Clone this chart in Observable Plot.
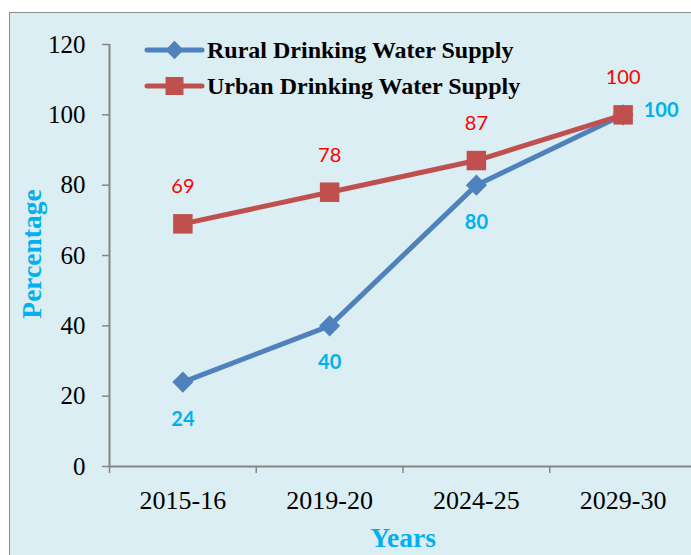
<!DOCTYPE html>
<html><head><meta charset="utf-8">
<script src="https://cdn.jsdelivr.net/npm/d3@7"></script>
<script src="https://cdn.jsdelivr.net/npm/@observablehq/plot@0.6"></script>
<style>
body{margin:0;width:691px;height:555px;overflow:hidden;background:#fff;position:relative;}
#bg{position:absolute;left:9px;top:12px;width:720px;height:600px;background:#DBEEF4;border:1.5px solid #8c8c8c;box-sizing:border-box;}
#chart{position:absolute;left:0;top:0;}
.title{position:absolute;color:#00B0F0;font-weight:bold;font-family:"Liberation Serif";font-size:27.5px;white-space:nowrap;line-height:1;}
#ytitle{left:32px;top:254px;transform:translate(-50%,-50%) rotate(-90deg);}
#xtitle{left:403px;top:538px;transform:translate(-50%,-50%);}
#legend{position:absolute;left:0;top:0;}
</style></head>
<body>
<div id="bg"></div>
<div id="chart"></div>
<div class="title" id="ytitle">Percentage</div>
<div class="title" id="xtitle">Years</div>
<svg id="legend" width="691" height="120"></svg>
<script>
const years = ["2015-16","2019-20","2024-25","2029-30"];
const rural = [24,40,80,100];
const urban = [69,78,87,100];
const yTicks = [0,20,40,60,80,100,120];
const seriesNames = ["Rural Drinking Water Supply","Urban Drinking Water Supply"];
const colors = ["#4F81BD","#C0504D"];

const ruralData = years.map((y,i)=>({i:i+0.5, v:rural[i], last:i===years.length-1}));
const urbanData = years.map((y,i)=>({i:i+0.5, v:urban[i]}));

const chart = Plot.plot({
  width:691, height:555,
  marginLeft:109, marginTop:44, marginBottom:89, marginRight:0,
  x:{domain:[0,years.length], range:[109,696]},
  y:{domain:[0,120]},
  style:{background:"transparent", fontFamily:"Liberation Serif", overflow:"visible"},
  marks:[
    Plot.axisY({ticks:yTicks, tickSize:7, tickPadding:17, fontSize:25, stroke:"#868686", strokeWidth:1.5, fill:"#000", label:null}),
    Plot.axisX({ticks:d3.range(years.length+1), tickFormat:()=>"", tickSize:7, stroke:"#868686", strokeWidth:1.5, label:null}),
    Plot.axisX({ticks:years.map((y,i)=>i+0.5), tickFormat:d=>years[Math.floor(d)], tickSize:0, tickPadding:24, fontSize:26, fill:"#000", label:null}),
    Plot.ruleX([0], {stroke:"#868686", strokeWidth:2}),
    Plot.ruleY([0], {stroke:"#868686", strokeWidth:2}),
    Plot.line(ruralData, {x:"i", y:"v", stroke:colors[0], strokeWidth:5}),
    Plot.dot(ruralData, {x:"i", y:"v", symbol:"diamond2", r:9.5, fill:colors[0]}),
    Plot.line(urbanData, {x:"i", y:"v", stroke:colors[1], strokeWidth:5}),
    Plot.dot(urbanData, {x:"i", y:"v", symbol:"square", r:11, fill:colors[1]}),
    Plot.text(urbanData, {x:"i", y:"v", text:d=>String(d.v), dy:-37, fill:"#FF0000", fontFamily:"Lato", fontSize:20}),
    Plot.text(ruralData.filter(d=>!d.last), {x:"i", y:"v", text:d=>String(d.v), dy:37, fill:"#00B0F0", fontFamily:"Lato", fontWeight:"bold", fontSize:20}),
    Plot.text(ruralData.filter(d=>d.last), {x:"i", y:"v", text:d=>String(d.v), dx:38, dy:-4, fill:"#00B0F0", fontFamily:"Lato", fontWeight:"bold", fontSize:20})
  ]
});
document.getElementById("chart").appendChild(chart);

// legend
const lg = d3.select("#legend");
const symbols = [d3.symbolDiamond2, d3.symbolSquare];
const sizes = [Math.PI*9.5*9.5*0.75, Math.PI*11*11*0.85];
seriesNames.forEach((name,k)=>{
  const yy = 50 + k*36;
  lg.append("line").attr("x1",147).attr("x2",202).attr("y1",yy).attr("y2",yy)
    .attr("stroke",colors[k]).attr("stroke-width",5).attr("stroke-linecap","round");
  lg.append("path").attr("d", d3.symbol(symbols[k], sizes[k])()).attr("transform",`translate(174.5,${yy})`).attr("fill",colors[k]);
  lg.append("text").attr("x",207).attr("y",yy+8).text(name)
    .attr("font-family","Liberation Serif").attr("font-weight","bold").attr("font-size",24).attr("fill","#000");
});
</script>
</body></html>
